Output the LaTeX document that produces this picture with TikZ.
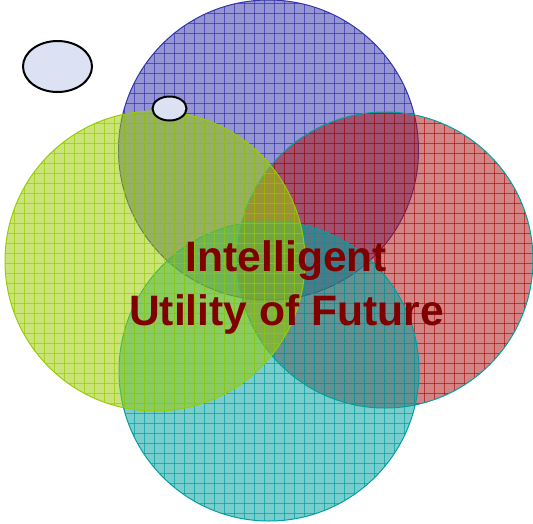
\documentclass[tikz,border=0pt]{standalone}
\usepackage{fontspec}
\setmainfont{Liberation Sans}
\definecolor{cblue}{RGB}{51,51,170}
\definecolor{cgreen}{RGB}{153,204,0}
\definecolor{cred}{RGB}{170,20,20}
\definecolor{ccyan}{RGB}{0,160,160}
\definecolor{ellfill}{RGB}{220,226,244}
\definecolor{titlered}{RGB}{128,0,0}
\newcommand{\gridcircle}[5]{%
  % #1 cx, #2 cy, #3 r, #4 colour, #5 outline colour
  \begin{scope}
    \fill[#4, fill opacity=0.52] (#1,#2) circle[radius=#3];
    \clip (#1,#2) circle[radius=#3];
    \foreach \gx in {0,10,...,540} {\draw[#4, line width=0.75pt, opacity=0.7] (\gx+4,0) -- (\gx+4,530);}
    \foreach \gy in {0,10,...,530} {\draw[#4, line width=0.75pt, opacity=0.7] (0,\gy+3) -- (540,\gy+3);}
  \end{scope}
  \draw[#5, line width=1pt] (#1,#2) circle[radius=#3];
}
\begin{document}
\begin{tikzpicture}[x=1pt,y=-1pt,
  ellbox/.style={draw=black, line width=2pt, fill=ellfill},
  titletext/.style={text=titlered, font=\bfseries\fontsize{42.6}{54}\selectfont, align=center, inner sep=0pt}]
\useasboundingbox (0,0) rectangle (533,523);
\gridcircle{268.5}{150}{150}{cblue}{cblue}
\gridcircle{385}{260}{148}{cred}{ccyan}
\gridcircle{269}{371}{150}{ccyan}{ccyan}
\gridcircle{155}{261}{150}{cgreen}{cgreen}
\draw[ellbox] (57.5,66.5) ellipse[x radius=34.5, y radius=25.5];
\draw[ellbox] (169.5,108.5) ellipse[x radius=17, y radius=12];
\node[titletext] (title) at (286.5,287) {Intelligent\\Utility of Future};
\end{tikzpicture}
\end{document}
